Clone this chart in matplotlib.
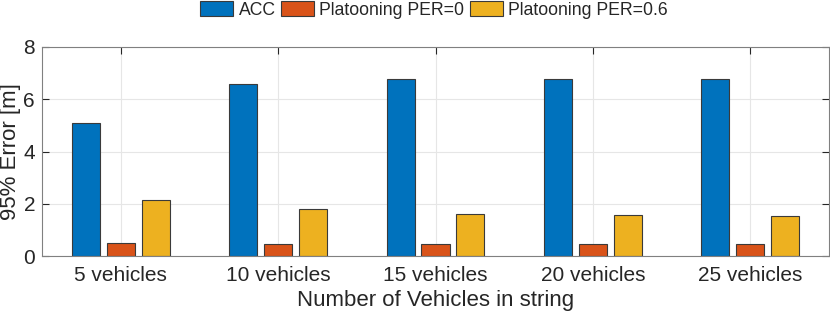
import numpy as np
import matplotlib
matplotlib.use("Agg")
import matplotlib.pyplot as plt

plt.rcParams['font.family'] = ['Liberation Sans', 'DejaVu Sans']

groups = ["5 vehicles", "10 vehicles", "15 vehicles", "20 vehicles", "25 vehicles"]
acc = [5.1, 6.6, 6.77, 6.78, 6.76]
per0 = [0.5, 0.47, 0.46, 0.46, 0.45]
per06 = [2.15, 1.8, 1.6, 1.58, 1.55]
series_names = ["ACC", "Platooning PER=0", "Platooning PER=0.6"]
colors = ["#0072BD", "#D95319", "#EDB120"]

txt = "#262626"
fig = plt.figure(figsize=(8.3, 3.17), dpi=100)
ax = fig.add_axes([42/830, 1-256/317, (829-42)/830, (256-47)/317])

x = np.arange(1, len(groups)+1)
w = 0.178
off = 0.222
for i, (vals, name, c) in enumerate(zip([acc, per0, per06], series_names, colors)):
    ax.bar(x + (i-1)*off, vals, w, color=c, edgecolor="#3a3a3a", linewidth=0.8,
           label=name, zorder=2)

ax.set_xlim(0.5, 5.5)
ax.set_ylim(0, 8)
ax.set_xticks(x)
ax.set_xticklabels(groups)
ax.set_yticks([0, 2, 4, 6, 8])
ax.grid(True, color="#e6e6e6", linewidth=0.8, zorder=0)
ax.set_axisbelow(True)
ax.tick_params(direction="in", length=5, width=0.8, color=txt, labelcolor=txt,
               labelsize=15, top=True, right=True)
ax.tick_params(axis="x", pad=7)
ax.tick_params(axis="y", pad=5)
for s in ax.spines.values():
    s.set_color("#808080")
    s.set_linewidth(0.8)
    s.set_zorder(3)
ax.set_xlabel("Number of Vehicles in string", fontsize=16, color=txt)
ax.xaxis.set_label_coords(0.5, -0.163)
ax.set_ylabel("95% Error [m]", fontsize=16, color=txt)
ax.yaxis.set_label_coords(-0.027, 0.5)

leg = ax.legend(loc="center", bbox_to_anchor=(0.498, 1.178), ncol=3, frameon=False,
                fontsize=12.7, handlelength=1.87, handleheight=0.96, handletextpad=0.3,
                columnspacing=0.3, borderaxespad=0)
for t in leg.get_texts():
    t.set_color(txt)

fig.savefig("out.png", dpi=100)
